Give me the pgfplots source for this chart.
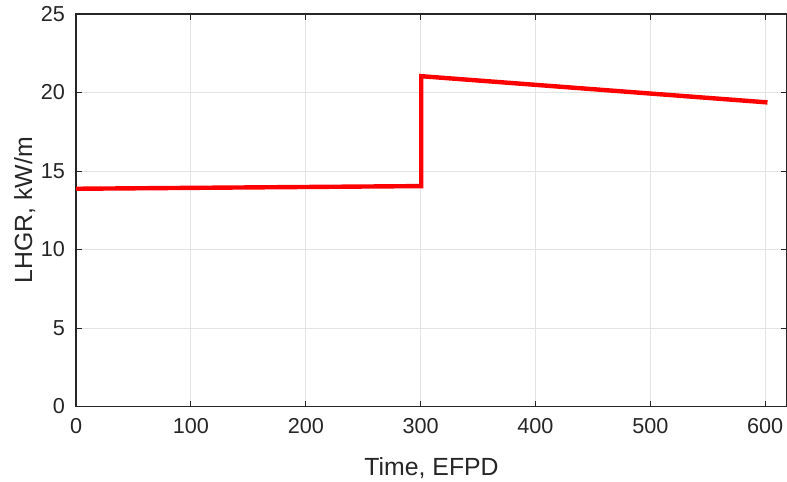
\documentclass[border=0pt]{standalone}
\usepackage{pgfplots}
\pgfplotsset{compat=1.18}
\usepackage{fontspec}
\setmainfont{Liberation Sans}
\definecolor{axgray}{HTML}{262626}
\definecolor{gridgray}{HTML}{E3E3E3}
\begin{document}
\begin{tikzpicture}
\path[use as bounding box] (-38pt,-37.5pt) rectangle (355pt,203pt);
\begin{axis}[
  scale only axis,
  width=355pt, height=196pt,
  xmin=0, xmax=619, ymin=0, ymax=25,
  xtick={0,100,...,600}, ytick={0,5,...,25},
  grid=major,
  major grid style={gridgray, line width=0.5pt},
  axis line style={axgray, line width=0.6pt},
  tick style={axgray, line width=0.5pt},
  tick align=inside,
  major tick length=3pt,
  tick label style={font=\fontsize{10.8}{12}\selectfont, text=axgray},
  xticklabel style={yshift=-2.5pt},
  yticklabel style={xshift=-2pt},
  /pgf/number format/assume math mode=true,
  xlabel={Time, EFPD},
  ylabel={LHGR, kW/m},
  label style={font=\fontsize{12.4}{14}\selectfont, text=axgray},
  xlabel style={yshift=-5pt},
  ylabel style={yshift=-4pt},
]
\addplot[red, line width=2.2pt, line join=miter] coordinates {
  (0,13.87) (300.5,14.04) (300.5,21.04) (602,19.37)
};
\end{axis}
\end{tikzpicture}
\end{document}
